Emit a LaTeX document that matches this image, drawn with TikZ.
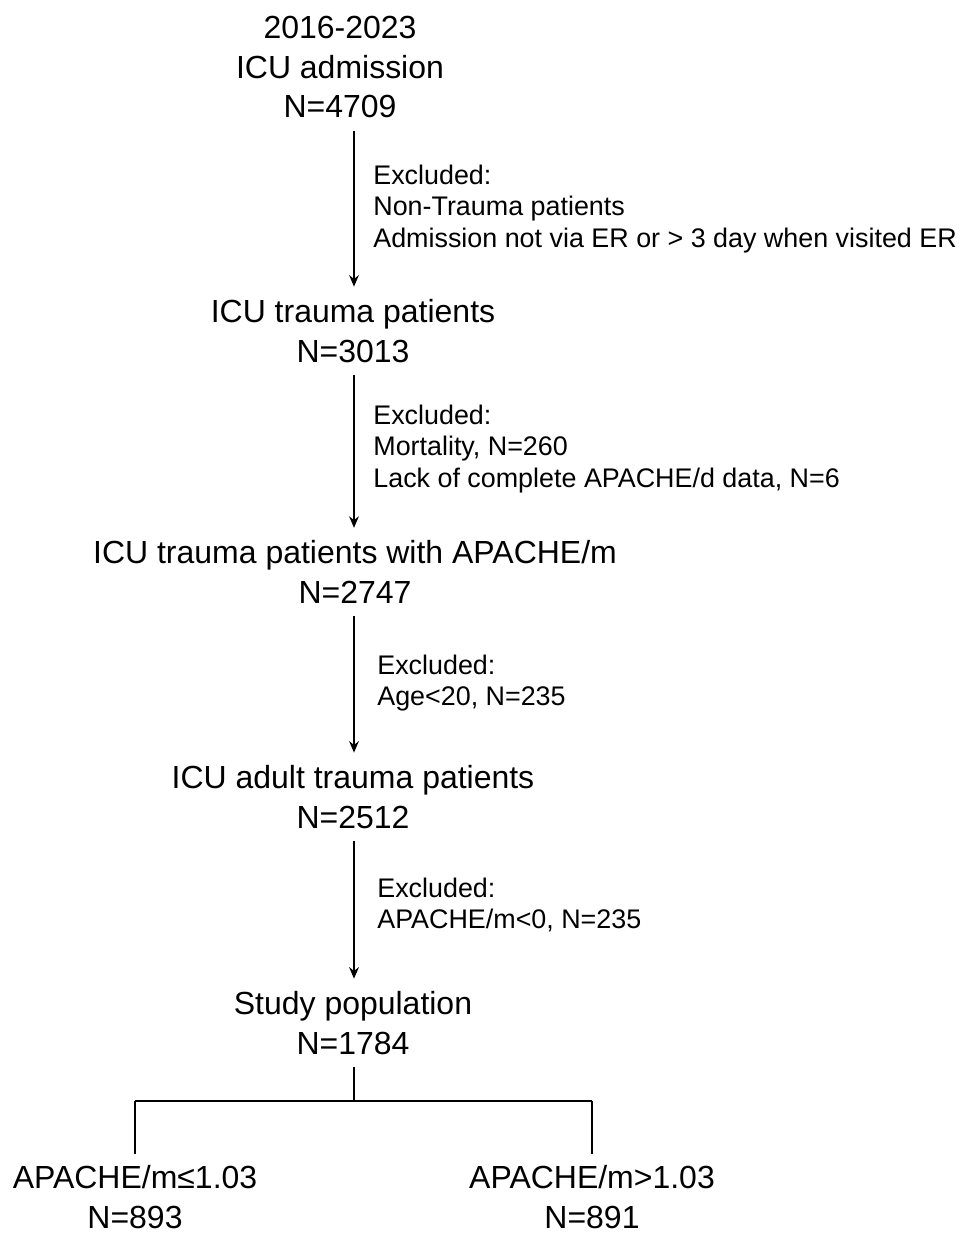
\documentclass[tikz,border=0pt]{standalone}
\usepackage{fontspec}
\setmainfont{Liberation Sans}
\usetikzlibrary{arrows.meta}
\begin{document}
\begin{tikzpicture}[x=0.02cm,y=-0.02cm,
  mainbox/.style={inner sep=0pt, align=center, font=\fontsize{18.2pt}{22.7pt}\selectfont},
  exbox/.style={inner sep=0pt, align=left, anchor=west, font=\fontsize{15.3pt}{18.1pt}\selectfont},
  arr/.style={line width=1.2pt, -{Stealth[length=6.5pt,width=5.5pt]}, shorten <=7pt, shorten >=7pt},
  ln/.style={line width=1.2pt}]
\useasboundingbox (0,0) rectangle (964,1236);
\coordinate (ax) at (354,0);
\node[mainbox] (n1) at (340,67) {2016-2023\\ICU admission\\N=4709};
\node[mainbox] (n2) at (353,331) {ICU trauma patients\\N=3013};
\node[mainbox] (n3) at (355,572) {ICU trauma patients with APACHE/m\\N=2747};
\node[mainbox] (n4) at (353,797) {ICU adult trauma patients\\N=2512};
\node[mainbox] (n5) at (353,1023) {Study population\\N=1784};
\node[mainbox] (L) at (135,1197) {APACHE/m≤1.03\\N=893};
\node[mainbox] (R) at (592,1197) {APACHE/m>1.03\\N=891};
\node[exbox] (e1) at (373,209) {Excluded:\\Non-Trauma patients\\Admission not via ER or > 3 day when visited ER};
\node[exbox] (e2) at (373,449) {Excluded:\\Mortality, N=260\\Lack of complete APACHE/d data, N=6};
\node[exbox] (e3) at (377,683) {Excluded:\\Age<20, N=235};
\node[exbox] (e4) at (377,905) {Excluded:\\APACHE/m<0, N=235};
\draw[arr] (n1.south -| ax) -- (n2.north -| ax);
\draw[arr] (n2.south -| ax) -- (n3.north -| ax);
\draw[arr] (n3.south -| ax) -- (n4.north -| ax);
\draw[arr] (n4.south -| ax) -- (n5.north -| ax);
\coordinate (split) at (354,1101);
\draw[ln, shorten <=7pt] (n5.south -| ax) -- (split);
\draw[ln] (L.north |- split) -- (R.north |- split);
\draw[ln, shorten >=6pt] (L.north |- split) -- (L.north);
\draw[ln, shorten >=6pt] (R.north |- split) -- (R.north);
\end{tikzpicture}
\end{document}
